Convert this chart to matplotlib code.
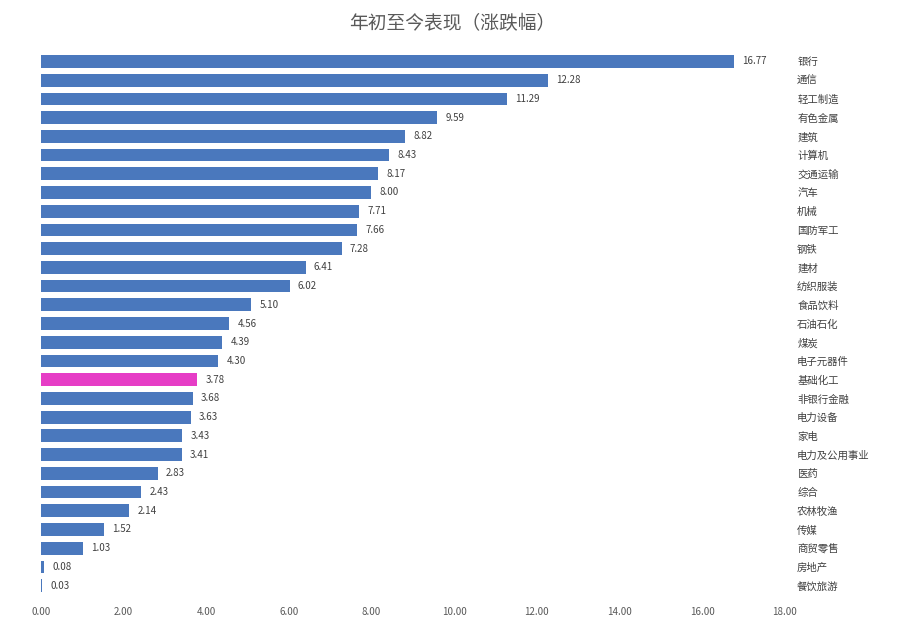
import matplotlib
matplotlib.use("Agg")
import matplotlib.pyplot as plt

plt.rcParams['font.family'] = ['Noto Sans CJK SC', 'DejaVu Sans']

industries = ['银行', '通信', '轻工制造', '有色金属', '建筑', '计算机', '交通运输', '汽车',
              '机械', '国防军工', '钢铁', '建材', '纺织服装', '食品饮料', '石油石化', '煤炭',
              '电子元器件', '基础化工', '非银行金融', '电力设备', '家电', '电力及公用事业',
              '医药', '综合', '农林牧渔', '传媒', '商贸零售', '房地产', '餐饮旅游']
changes = [16.77, 12.28, 11.29, 9.59, 8.82, 8.43, 8.17, 8.00, 7.71, 7.66, 7.28, 6.41,
           6.02, 5.10, 4.56, 4.39, 4.30, 3.78, 3.68, 3.63, 3.43, 3.41, 2.83, 2.43, 2.14,
           1.52, 1.03, 0.08, 0.03]
highlight = '基础化工'
xticks = [0, 2, 4, 6, 8, 10, 12, 14, 16, 18]

fig = plt.figure(figsize=(9.05, 6.35), dpi=100)
ax = fig.add_axes([0.045, 0.063, 0.822, 0.855])

colors = ['#e63dc6' if n == highlight else '#4a78bd' for n in industries]
y = list(range(len(industries)))
ax.barh(y, changes, height=0.68, color=colors)
ax.set_ylim(len(industries) - 0.5, -0.5)
ax.set_xlim(0, 18)

for yi, v in zip(y, changes):
    ax.text(v + 0.2, yi, f'{v:.2f}', va='center', ha='left', fontsize=7, color='#404040')

ax.yaxis.tick_right()
ax.set_yticks(y)
ax.set_yticklabels(industries, fontsize=7.5, color='#404040')
ax.tick_params(axis='y', length=0, pad=9)
ax.set_xticks(xticks)
ax.set_xticklabels([f'{t:.2f}' for t in xticks], fontsize=7, color='#595959')
ax.tick_params(axis='x', length=0, pad=9)
for s in ax.spines.values():
    s.set_visible(False)

fig.suptitle('年初至今表现（涨跌幅）', y=0.98, fontsize=13.5, color='#595959')

fig.savefig('out.png', dpi=100)
